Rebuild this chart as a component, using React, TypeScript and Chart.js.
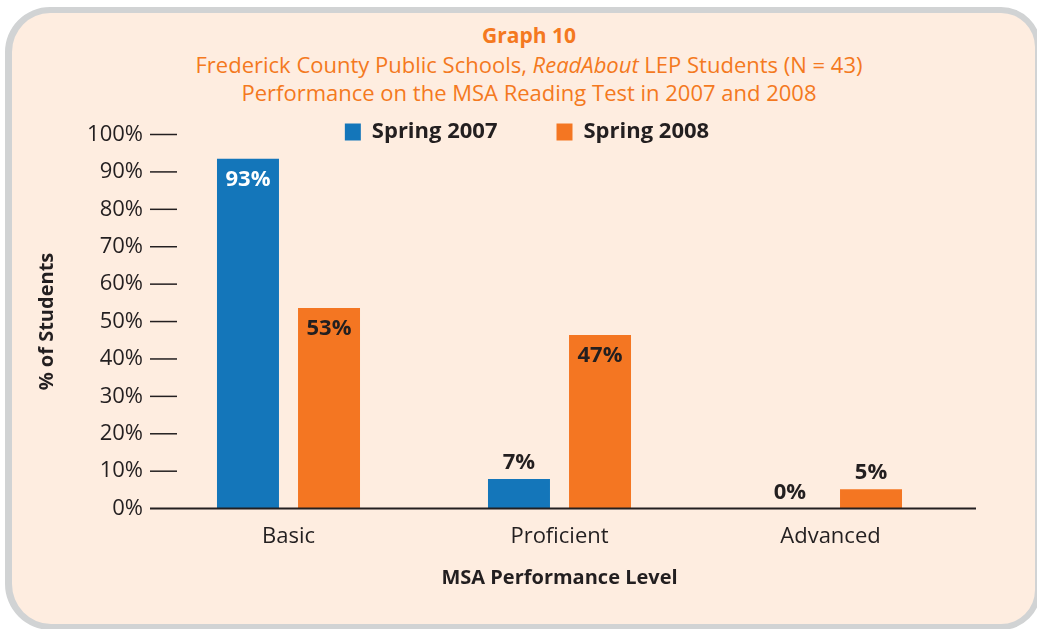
import React, { useEffect, useRef } from "react";
import Chart from "chart.js/auto";

const categories = ["Basic", "Proficient", "Advanced"];
const seriesNames = ["Spring 2007", "Spring 2008"];
const spring2007 = [93.5, 7.9, 0];
const spring2008 = [53.6, 46.4, 5.2];
const labels2007 = ["93%", "7%", "0%"];
const labels2008 = ["53%", "47%", "5%"];
const yTickStep = 10;
const yMax = 100;

const BLUE = "#1476BA";
const ORANGE = "#F47622";
const DARK = "#231F20";
const TITLE_ORANGE = "#F47920";
const FONT = "'Open Sans', 'Noto Sans', sans-serif";

const valueLabels = [labels2007, labels2008];
const insideColors = ["#FFFFFF", DARK];

// lets the legend text overlap the top of the plot area, as in the original
const legendRoom = {
  id: "legendRoom",
  afterLayout(chart: any) {
    const lg = chart.legend;
    if (lg) {
      lg.bottom = lg.top + 100;
      lg.height = 100;
    }
  },
};

const axisMarks = {
  id: "axisMarks",
  afterDatasetsDraw(chart: any) {
    const { ctx, chartArea, scales } = chart;
    const y = scales.y;
    ctx.save();
    ctx.strokeStyle = DARK;
    ctx.lineWidth = 1.5;
    y.ticks.forEach((t: any) => {
      if (t.value === 0) return;
      const py = y.getPixelForValue(t.value);
      ctx.beginPath();
      ctx.moveTo(chartArea.left - 3, py);
      ctx.lineTo(chartArea.left + 24, py);
      ctx.stroke();
    });
    ctx.lineWidth = 2;
    const p0 = y.getPixelForValue(0);
    ctx.beginPath();
    ctx.moveTo(chartArea.left - 3, p0);
    ctx.lineTo(chartArea.right + 10, p0);
    ctx.stroke();
    ctx.restore();
  },
};

const valueLabelPlugin = {
  id: "valueLabels",
  afterDatasetsDraw(chart: any) {
    const { ctx } = chart;
    ctx.save();
    ctx.font = `700 22px ${FONT}`;
    ctx.textAlign = "center";
    ctx.textBaseline = "alphabetic";
    chart.data.datasets.forEach((ds: any, di: number) => {
      const meta = chart.getDatasetMeta(di);
      meta.data.forEach((bar: any, i: number) => {
        const v = ds.data[i];
        const text = valueLabels[di][i];
        if (v > 20) {
          ctx.fillStyle = insideColors[di];
          ctx.fillText(text, bar.x, bar.y + 27);
        } else {
          ctx.fillStyle = DARK;
          ctx.fillText(text, bar.x, bar.y - 10);
        }
      });
    });
    ctx.restore();
  },
};

export default function App() {
  const canvasRef = useRef<HTMLCanvasElement | null>(null);

  useEffect(() => {
    document.body.style.margin = "0";
    const canvas = canvasRef.current;
    if (!canvas) return;
    const chart = new Chart(canvas, {
      type: "bar",
      data: {
        labels: categories,
        datasets: [
          { label: seriesNames[0], data: spring2007, backgroundColor: BLUE, borderWidth: 0 },
          { label: seriesNames[1], data: spring2008, backgroundColor: ORANGE, borderWidth: 0 },
        ],
      },
      options: {
        animation: false,
        responsive: false,
        events: [],
        categoryPercentage: 0.598,
        barPercentage: 0.765,
        layout: { padding: { left: 20, right: 3, top: 62, bottom: 38 } },
        plugins: {
          tooltip: { enabled: false },
          title: { display: false },
          legend: {
            display: true,
            position: "top",
            maxHeight: 72.5,
            labels: {
              boxWidth: 16,
              boxHeight: 17,
              padding: 59,
              color: DARK,
              font: { family: FONT, size: 22, weight: "700" },
            },
          },
        },
        scales: {
          x: {
            type: "category",
            offset: true,
            grid: { display: false, drawTicks: false },
            border: { display: false },
            ticks: { color: DARK, padding: 15, font: { family: FONT, size: 22 } },
            title: {
              display: true,
              text: "MSA Performance Level",
              color: DARK,
              font: { family: FONT, size: 20, weight: "700" },
              padding: { top: 1, bottom: 1 },
            },
          },
          y: {
            type: "linear",
            position: "left",
            min: 0,
            max: yMax,
            grid: { display: false, drawTicks: false },
            border: { display: false },
            ticks: {
              stepSize: yTickStep,
              includeBounds: false,
              padding: 10,
              color: DARK,
              font: { family: FONT, size: 22 },
              callback: (v: any) => `${v}%`,
            },
            title: {
              display: true,
              text: "% of Students",
              color: DARK,
              font: { family: FONT, size: 20, weight: "700" },
              padding: { top: 15, bottom: 0 },
            },
            afterFit: (s: any) => {
              s.width = 133;
            },
          },
          yR: {
            type: "linear",
            position: "right",
            display: true,
            grid: { display: false, drawTicks: false },
            border: { display: false },
            ticks: { display: false },
            afterFit: (s: any) => {
              s.width = 68;
            },
          },
        },
      } as any,
      plugins: [legendRoom, axisMarks, valueLabelPlugin],
    });
    return () => chart.destroy();
  }, []);

  return (
    <div style={{ position: "relative", width: 1037, height: 629, overflow: "hidden" }}>
      <div
        style={{
          position: "absolute",
          left: 5,
          top: 7,
          width: 1036,
          height: 623,
          boxSizing: "border-box",
          border: "6px solid #D1D3D4",
          borderLeftWidth: 7,
          borderRadius: "45px 40px 40px 46px",
          background: "#FEEDE0",
        }}
      />
      <div
        style={{
          position: "absolute",
          top: 21,
          left: 0,
          width: 1058,
          textAlign: "center",
          color: TITLE_ORANGE,
          fontFamily: FONT,
          lineHeight: "28px",
        }}
      >
        <div style={{ fontWeight: 700, fontSize: 21 }}>Graph 10</div>
        <div style={{ fontSize: 22, marginTop: 1 }}>
          Frederick County Public Schools, <i>ReadAbout</i> LEP Students (N = 43)
        </div>
        <div style={{ fontSize: 22 }}>Performance on the MSA Reading Test in 2007 and 2008</div>
      </div>
      <canvas
        ref={canvasRef}
        width={1037}
        height={629}
        style={{ position: "absolute", left: 0, top: 0, width: 1037, height: 629 }}
      />
    </div>
  );
}
